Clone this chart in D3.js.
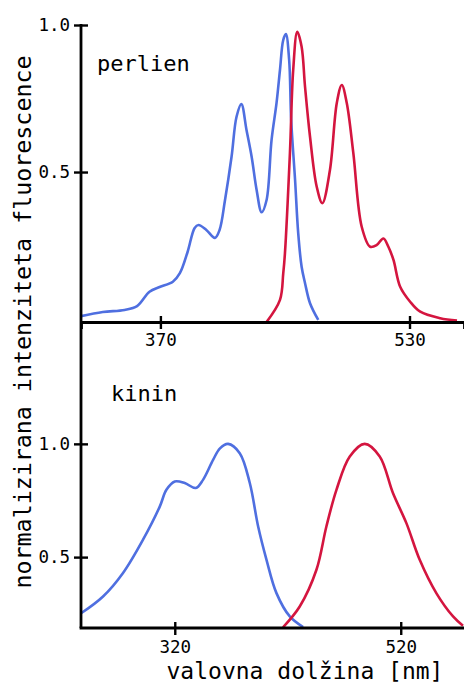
<!DOCTYPE html>
<html>
<head>
<meta charset="utf-8">
<script src="https://cdn.jsdelivr.net/npm/d3@7"></script>
<style>
  html, body { margin: 0; padding: 0; background: #fff; }
  svg { display: block; }
  text { font-family: "DejaVu Sans Mono", monospace; fill: #000; }
</style>
</head>
<body>
<svg id="chart" width="464" height="686"></svg>
<script>
// ---------- data ----------
const perylAbsNm = [319, 333, 347, 355, 363, 369.5, 378, 382.5, 387.5, 392, 394.5, 399.5, 405, 408, 411.5, 415.7, 418.9, 422, 425.3, 428.6, 431.8, 435, 438.2, 441.4, 444.6, 446.8, 448.9, 450.6, 452.7, 454, 456.5, 458.5, 460.7, 462.9, 466.1, 471.4];
const perylAbsVal = [0.010, 0.024, 0.031, 0.044, 0.093, 0.109, 0.127, 0.156, 0.229, 0.310, 0.320, 0.303, 0.276, 0.303, 0.405, 0.552, 0.688, 0.731, 0.643, 0.552, 0.439, 0.363, 0.405, 0.609, 0.735, 0.847, 0.949, 0.969, 0.881, 0.677, 0.473, 0.293, 0.178, 0.122, 0.054, -0.003];

const perylEmNm = [438.2, 446.8, 448.9, 450, 453.2, 455.3, 457.9, 460.7, 462.9, 466.1, 470.4, 474, 478.9, 483.3, 486.5, 489.7, 493.9, 499.3, 504.7, 509, 513.2, 516.5, 519.7, 524, 530.4, 536.9, 549.7, 560.5];
const perylEmVal = [-0.01, 0.065, 0.155, 0.224, 0.565, 0.847, 0.977, 0.926, 0.790, 0.620, 0.450, 0.394, 0.507, 0.735, 0.796, 0.735, 0.565, 0.314, 0.246, 0.252, 0.274, 0.245, 0.201, 0.110, 0.059, 0.025, 0.003, -0.005];

const quinAbsNm = [237.4, 256.5, 274.2, 291.9, 306.7, 312.6, 320, 328.8, 338.6, 345, 353.9, 360, 367.2, 377.5, 386.4, 393.8, 401.2, 410, 421.8, 433.6];
const quinAbsVal = [0.253, 0.326, 0.430, 0.577, 0.723, 0.797, 0.834, 0.827, 0.805, 0.841, 0.929, 0.980, 1.000, 0.959, 0.827, 0.635, 0.488, 0.341, 0.238, 0.191];

const quinEmNm = [415.8, 430.6, 445.4, 454.2, 463.1, 474.9, 488.1, 501.4, 513.1, 525, 536.8, 551.5, 566.3, 575.1];
const quinEmVal = [0.190, 0.282, 0.444, 0.635, 0.797, 0.944, 1.000, 0.944, 0.783, 0.650, 0.488, 0.341, 0.238, 0.197];

const topXTicks = [370, 530];
const botXTicks = [320, 520];
const yTicks = [0.5, 1.0];
const yTickLabels = ["0.5", "1.0"];
const panelNames = ["perlien", "kinin"];
const xTitle = "valovna dolžina [nm]";
const yTitle = "normalizirana intenziteta fluorescence";

// ---------- layout ----------
const svg = d3.select("#chart");
const left = 81, right = 464;
const topPanel = { y0: 322, y1: 25 };
const botPanel = { y0: 628, y1: 322 };
const blue = "#4f6fe0", red = "#d4153f";

const xTop = d3.scaleLinear().domain([319, 565]).range([left, right]);
const yTop = d3.scaleLinear().domain([-0.01, 1.0]).range([topPanel.y0, topPanel.y1]);
const xBot = d3.scaleLinear().domain([237, 576]).range([left, right]);
const yBot = d3.scaleLinear().domain([0.187, 1.538]).range([botPanel.y0, botPanel.y1]);

// clip paths
const defs = svg.append("defs");
defs.append("clipPath").attr("id", "clipTop").append("rect")
  .attr("x", left).attr("y", 0).attr("width", right - left).attr("height", topPanel.y0);
defs.append("clipPath").attr("id", "clipBot").append("rect")
  .attr("x", left).attr("y", botPanel.y1).attr("width", right - left).attr("height", botPanel.y0 - botPanel.y1);

function drawCurve(nm, val, xs, ys, color, clip) {
  const pts = nm.map((d, i) => [d, val[i]]);
  const line = d3.line().x(d => xs(d[0])).y(d => ys(d[1])).curve(d3.curveCatmullRom.alpha(0.5));
  svg.append("path").attr("d", line(pts)).attr("fill", "none")
    .attr("stroke", color).attr("stroke-width", 2.6).attr("stroke-linejoin", "round")
    .attr("clip-path", `url(#${clip})`);
}

drawCurve(perylAbsNm, perylAbsVal, xTop, yTop, blue, "clipTop");
drawCurve(perylEmNm, perylEmVal, xTop, yTop, red, "clipTop");
drawCurve(quinAbsNm, quinAbsVal, xBot, yBot, blue, "clipBot");
drawCurve(quinEmNm, quinEmVal, xBot, yBot, red, "clipBot");

function styleAxis(g, horizontal) {
  g.select(".domain").attr("stroke", "#000").attr("stroke-width", 2.8);
  g.selectAll(".tick line").attr("stroke", "#000").attr("stroke-width", 2.4);
  if (horizontal) g.selectAll(".tick line").attr("y1", -6).attr("y2", 7);
  else g.selectAll(".tick line").attr("x1", -7).attr("x2", 7);
  g.selectAll(".tick text").attr("font-family", "DejaVu Sans Mono").attr("font-size", 17.5).attr("fill", "#000");
}

// axes
const gxTop = svg.append("g").attr("transform", `translate(0,${topPanel.y0})`)
  .call(d3.axisBottom(xTop).tickValues(topXTicks).tickSizeOuter(0).tickSize(7).tickPadding(5).tickFormat(d3.format("d")));
styleAxis(gxTop, true);
const gyTop = svg.append("g").attr("transform", `translate(${left},0)`)
  .call(d3.axisLeft(yTop).tickValues(yTicks).tickSizeOuter(0).tickSize(7).tickPadding(4).tickFormat((d, i) => yTickLabels[i]));
styleAxis(gyTop, false);
gyTop.select(".domain").attr("d", `M0,${topPanel.y0}V${topPanel.y1 - 1}`);

const gxBot = svg.append("g").attr("transform", `translate(0,${botPanel.y0})`)
  .call(d3.axisBottom(xBot).tickValues(botXTicks).tickSizeOuter(0).tickSize(7).tickPadding(6).tickFormat(d3.format("d")));
styleAxis(gxBot, true);
gxBot.select(".domain").attr("d", `M${left - 1.4},0H${right}`);
const gyBot = svg.append("g").attr("transform", `translate(${left},0)`)
  .call(d3.axisLeft(yBot).tickValues(yTicks).tickSizeOuter(0).tickSize(7).tickPadding(4).tickFormat((d, i) => yTickLabels[i]));
styleAxis(gyBot, false);
gyBot.select(".domain").attr("d", `M0,${botPanel.y0}V${botPanel.y1}`);

// panel names
svg.append("text").attr("x", 97).attr("y", 71).attr("font-size", 22).text(panelNames[0]);
svg.append("text").attr("x", 111).attr("y", 401).attr("font-size", 22).text(panelNames[1]);

// axis titles
svg.append("text").attr("x", 305).attr("y", 679).attr("text-anchor", "middle").attr("font-size", 23).text(xTitle);
svg.append("text").attr("transform", "translate(31,322) rotate(-90)").attr("text-anchor", "middle").attr("font-size", 23.3).text(yTitle);
</script>
</body>
</html>
